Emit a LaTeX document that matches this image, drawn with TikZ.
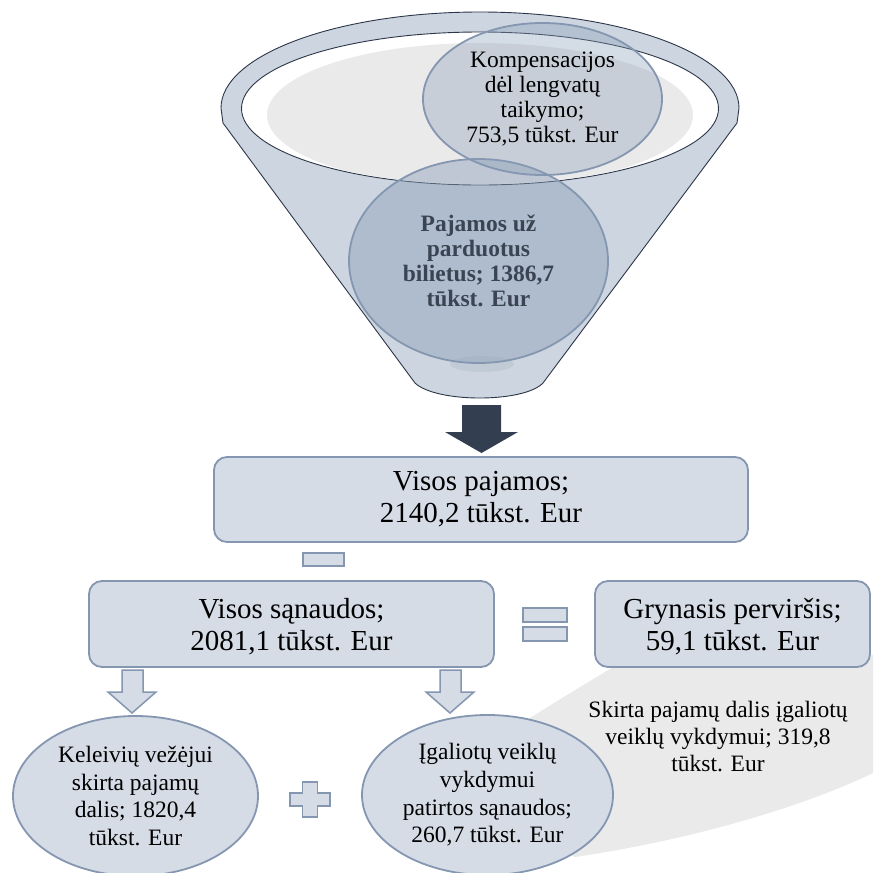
\documentclass[tikz,border=0pt]{standalone}
\usepackage{fontspec}
\setmainfont{Liberation Serif}
\usetikzlibrary{shapes.geometric}
\definecolor{boxfill}{HTML}{D5DCE6}
\definecolor{boxline}{HTML}{8496B0}
\definecolor{funnelfill}{HTML}{CDD6E0}
\definecolor{funnelline}{HTML}{2C3648}
\definecolor{darkarrow}{HTML}{333F50}
\definecolor{greyfill}{HTML}{EAEAEA}
\definecolor{ovalcol}{RGB}{138,158,183}
\definecolor{boldtext}{HTML}{3A4452}
\definecolor{shadowcol}{HTML}{A7B2C1}
\begin{document}
\begin{tikzpicture}[x=1pt,y=-1pt,
  rbox/.style={draw=boxline, line width=1.8pt, fill=boxfill, rounded corners=13pt,
    inner sep=0pt, align=center, font=\fontsize{29}{32}\selectfont},
  oval/.style={ellipse, draw=boxline, line width=1.8pt, fill=boxfill, inner sep=0pt,
    align=center, font=\fontsize{23.5}{27.7}\selectfont},
  glass/.style={ellipse, draw=boxline, line width=1.8pt, fill=ovalcol, text opacity=1,
    inner sep=0pt, align=center},
  signbox/.style={draw=boxline, line width=1.5pt, fill=boxfill, line join=miter},
  funnelstyle/.style={fill=funnelfill, draw=funnelline, line width=0.9pt},
  plaintext/.style={inner sep=0pt, align=center, font=\fontsize{23.5}{27}\selectfont}]
\useasboundingbox (0,0) rectangle (873,873);
\clip (0,0) rectangle (873,873);
\fill[white] (0,0) rectangle (873,873);

% funnel body
\path[funnelstyle] (221,108) .. controls (221,55) and (337,12) .. (480,12)
  .. controls (623,12) and (739,55) .. (739,108) -- (737,123) -- (543,383)
  .. controls (524,403) and (436,403) .. (415,383) -- (223,123) -- cycle;
\path[fill=white, draw=funnelline, line width=0.9pt] (480,108.5) ellipse [x radius=238.5, y radius=76.5];
\begin{scope}
  \clip (480,108.5) ellipse [x radius=237.5, y radius=75.5];
  \fill[greyfill] (480,115) ellipse [x radius=213, y radius=72];
\end{scope}
\fill[shadowcol, opacity=0.3] (482,364) ellipse [x radius=32, y radius=8];

% funnel inputs
\node[glass, fill opacity=0.45, minimum width=259, minimum height=204,
  font=\fontsize{23.5}{25}\selectfont\bfseries, text=boldtext] (paj) at (478.5,261)
  {Pajamos už\\parduotus\\bilietus; 1386,7\\tūkst. Eur};
\node[glass, fill opacity=0.36, minimum width=239, minimum height=152,
  font=\fontsize{23.5}{25.3}\selectfont] (komp) at (542.5,99)
  {Kompensacijos\\dėl lengvatų\\taikymo;\\753,5 tūkst. Eur};

% big arrow
\fill[darkarrow] (462,405) -- (501,405) -- (501,432) -- (518,432) -- (481.5,453)
  -- (445,432) -- (462,432) -- cycle;

% total income
\node[rbox, minimum width=534, minimum height=85] (vpaj) at (481,499.5)
  {Visos pajamos;\\2140,2 tūkst. Eur};
\path[signbox] (303,553) rectangle (344,566);

% grey callout
\fill[greyfill] (515,760) -- (527,720) .. controls (555,702) and (585,684) .. (615,666)
  -- (873,655) -- (873,773) .. controls (800,808) and (690,840) .. (575,857)
  -- (515,830) -- cycle;

% expenses and surplus
\node[rbox, minimum width=405, minimum height=86] (vsan) at (291.5,624)
  {\rule{0pt}{26pt}Visos sąnaudos;\\2081,1 tūkst. Eur};
\node[rbox, minimum width=275, minimum height=86] (gryn) at (732.5,624)
  {\rule{0pt}{26pt}Grynasis perviršis;\\59,1 tūkst. Eur};
\path[signbox] (523,608) rectangle (567,622);
\path[signbox] (523,627) rectangle (567,641);

% down arrows
\path[signbox] (122,670) -- (143,670) -- (143,692) -- (156,692) -- (132,713)
  -- (108,692) -- (122,692) -- cycle;
\path[signbox] (440,670) -- (461,670) -- (461,692) -- (474,692) -- (450,713)
  -- (426,692) -- (440,692) -- cycle;

% bottom ovals
\node[oval, minimum width=245, minimum height=160] (kel) at (135.5,796)
  {Keleivių vežėjui\\skirta pajamų\\dalis; 1820,4\\tūkst. Eur};
\node[oval, minimum width=251, minimum height=160] (igal) at (487.5,795)
  {Įgaliotų veiklų\\vykdymui\\patirtos sąnaudos;\\260,7 tūkst. Eur};
\path[signbox] (302.5,782) -- (317.5,782) -- (317.5,793) -- (330,793) -- (330,806)
  -- (317.5,806) -- (317.5,817) -- (302.5,817) -- (302.5,806) -- (290,806)
  -- (290,793) -- (302.5,793) -- cycle;

\node[plaintext] (skirta) at (718,737)
  {Skirta pajamų dalis įgaliotų\\veiklų vykdymui; 319,8\\tūkst. Eur};
\end{tikzpicture}
\end{document}
